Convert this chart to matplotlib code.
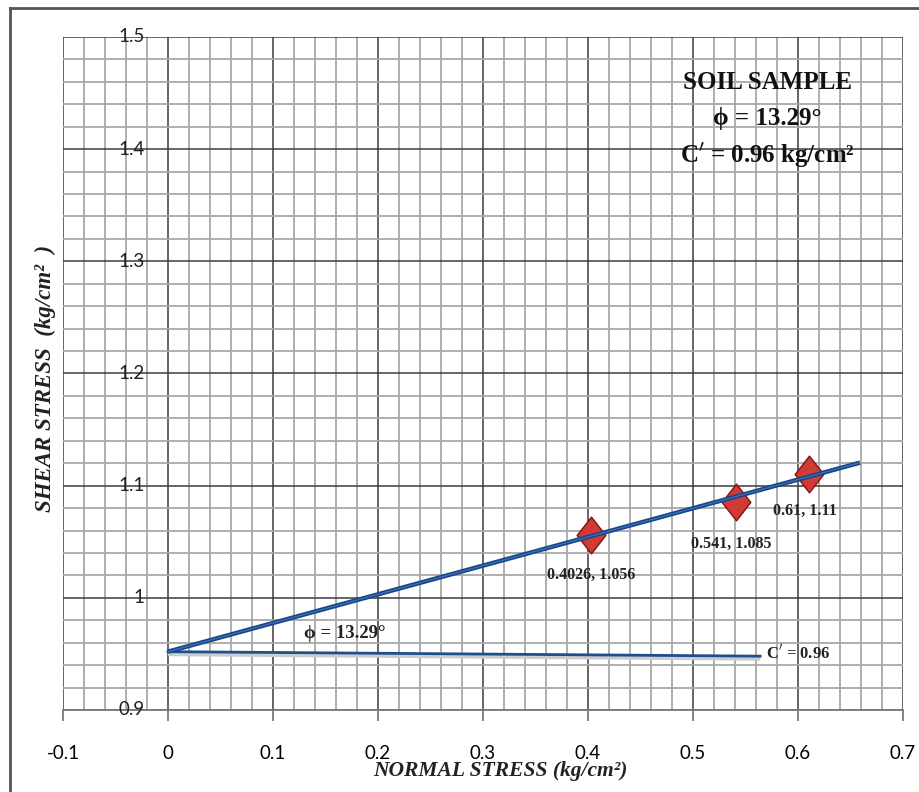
import matplotlib
matplotlib.use("Agg")
import matplotlib.pyplot as plt
from matplotlib.ticker import MultipleLocator
from matplotlib.lines import Line2D
from matplotlib.path import Path

# Data
normal_stress = [0.4026, 0.541, 0.61]
shear_stress = [1.056, 1.085, 1.11]
point_labels = ["0.4026, 1.056", "0.541, 1.085", "0.61, 1.11"]
fit_x = [0.0, 0.659]
fit_y = [0.952, 1.1205]
cohesion_x = [0.0, 0.564]
cohesion_y = [0.952, 0.948]
x_ticks = [-0.1, 0, 0.1, 0.2, 0.3, 0.4, 0.5, 0.6, 0.7]
x_tick_labels = ["-0.1", "0", "0.1", "0.2", "0.3", "0.4", "0.5", "0.6", "0.7"]
y_ticks = [0.9, 1.0, 1.1, 1.2, 1.3, 1.4, 1.5]
y_tick_labels = ["0.9", "1", "1.1", "1.2", "1.3", "1.4", "1.5"]

serif = ["Liberation Serif", "DejaVu Serif"]
sans = ["Lato", "DejaVu Sans"]

fig = plt.figure(figsize=(9.19, 7.92), dpi=100)
ax = fig.add_axes([63/919, 1-710/792, (903-63)/919, (710-37)/792])

ax.set_xlim(-0.1, 0.7)
ax.set_ylim(0.9, 1.5)
ax.xaxis.set_major_locator(MultipleLocator(0.1))
ax.xaxis.set_minor_locator(MultipleLocator(0.02))
ax.yaxis.set_major_locator(MultipleLocator(0.1))
ax.yaxis.set_minor_locator(MultipleLocator(0.02))
ax.grid(which="minor", color="#a8a8a8", linewidth=1.3, zorder=0)
ax.grid(which="major", color="#3c3c3c", linewidth=1.1, zorder=0)
ax.set_axisbelow(True)

for s in ["top", "right", "left"]:
    ax.spines[s].set_visible(False)
ax.spines["bottom"].set_color("#7a7a7a")
ax.spines["bottom"].set_linewidth(1.3)

ax.set_xticks(x_ticks)
ax.set_xticklabels(x_tick_labels, fontfamily=sans, fontsize=13.5)
ax.tick_params(axis="x", which="major", length=8, width=1.3, color="#7a7a7a", pad=17)
ax.tick_params(axis="x", which="minor", length=0)
ax.tick_params(axis="y", which="both", length=0, labelleft=False)

# y tick labels placed beside x = 0 (Excel-style crossing axis)
for yv, lab in zip(y_ticks, y_tick_labels):
    ax.annotate(lab, xy=(0, yv), xytext=(-17, 0), textcoords="offset points",
                ha="right", va="center", fontsize=13.5, fontfamily=sans,
                color="#222222", annotation_clip=False, zorder=5)

# cohesion horizontal line with shadow
ax.plot(cohesion_x, [v - 0.0022 for v in cohesion_y], color="#cccccc", linewidth=3, zorder=2,
        solid_capstyle="butt")
ax.plot(cohesion_x, cohesion_y, color="#1f4e8c", linewidth=2, zorder=3)

# points (tall diamond)
diamond = Path([(0, 1), (0.78, 0), (0, -1), (-0.78, 0), (0, 1)],
               [Path.MOVETO, Path.LINETO, Path.LINETO, Path.LINETO, Path.CLOSEPOLY])
ax.scatter(normal_stress, shear_stress, marker=diamond, s=700, color="#d23a36",
           edgecolor="#7a1512", linewidth=1.0, zorder=4)

# fitted line
ax.plot(fit_x, fit_y, color="#17478a", linewidth=3.2, zorder=5, solid_capstyle="butt")
ax.plot(fit_x, fit_y, color="#5f93d1", linewidth=0.8, zorder=6, alpha=0.6)

# point labels
label_offsets = [(0.0, -0.0355), (-0.005, -0.0365), (-0.003, -0.0325)]
for (xv, yv, lab, (dx, dy)) in zip(normal_stress, shear_stress, point_labels, label_offsets):
    ax.text(xv + dx, yv + dy, lab, ha="center", va="center", fontsize=11.5,
            fontfamily=serif, fontweight="bold", color="#222222", zorder=7)

ax.text(0.570, 0.9505, "C$'$ = 0.96", ha="left", va="center", fontsize=12,
        fontfamily=serif, fontweight="bold", color="#222222", zorder=7)
ax.text(0.130, 0.968, "ϕ = 13.29°", ha="left", va="center", fontsize=13.5,
        fontfamily=serif, fontweight="bold", color="#222222", zorder=7)

# annotation box text
ax.text(0.571, 1.4595, "SOIL SAMPLE", ha="center", va="center", fontsize=18,
        fontfamily=serif, fontweight="bold", color="#111111", zorder=7)
ax.text(0.571, 1.427, "ϕ = 13.29°", ha="center", va="center", fontsize=18,
        fontfamily=serif, fontweight="bold", color="#111111", zorder=7)
ax.text(0.571, 1.394, "C$'$ = 0.96 kg/cm²", ha="center", va="center", fontsize=18,
        fontfamily=serif, fontweight="bold", color="#111111", zorder=7)

# axis titles
fig.text(500/919, 1-771/792, "NORMAL STRESS (kg/cm²)", ha="center", va="center",
         fontsize=15.5, fontfamily=serif, fontweight="bold", fontstyle="italic", color="#222222")
fig.text(45/919, 1-378/792, "SHEAR STRESS  (kg/cm²  )", ha="center", va="center",
         rotation=90, fontsize=16.5, fontfamily=serif, fontweight="bold", fontstyle="italic",
         color="#222222")

# outer frame
fig.add_artist(Line2D([10/919, 10/919], [0, 1-8/792], transform=fig.transFigure,
                      color="#555555", linewidth=2))
fig.add_artist(Line2D([10/919, 1], [1-8/792, 1-8/792], transform=fig.transFigure,
                      color="#555555", linewidth=2))

fig.savefig("out.png", dpi=100)
